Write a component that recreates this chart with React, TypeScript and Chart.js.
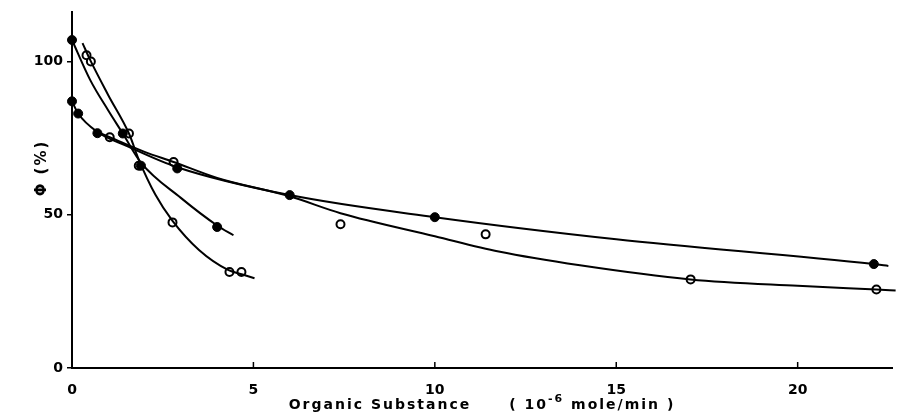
import React, { useEffect, useRef } from "react";
import { Chart, registerables } from "chart.js";

Chart.register(...registerables);

// Axis ticks
const xTicks = [0, 5, 10, 15, 20];
const yTicks = [0, 50, 100];

// Axis titles
const xTitleMain = "Organic Substance";
const xTitleUnitA = "( 10";
const xTitleUnitSup = "-6";
const xTitleUnitB = " mole/min )";
const yTitle = "Φ (%)";

// Fitted curves
const curveAx = [0, 0.5, 1.0, 1.4, 1.9, 3.0, 4.0, 4.45];
const curveAy = [107, 94, 84, 76.5, 67, 55.5, 46.5, 43.3];

const curveBx = [0.29, 0.5, 1.0, 1.57, 1.84, 2.3, 2.77, 3.5, 4.3, 4.7, 5.03];
const curveBy = [106, 100.5, 89, 76.5, 68, 56.5, 48, 38.5, 32, 30.5, 29.3];

const curveCx = [0, 0.17, 0.7, 1.5, 2.9, 6, 10, 15, 22.1, 22.5];
const curveCy = [87, 83, 77, 72.5, 65.5, 56.4, 49.2, 42, 33.9, 33.3];

const curveDx = [0.6, 1.04, 2.0, 2.8, 4, 6, 7.4, 10, 11.76, 14, 17.05, 20, 22.17, 22.7];
const curveDy = [77.5, 75.3, 70.5, 67.2, 62, 56, 50.5, 43, 38, 33.5, 28.9, 26.8, 25.6, 25.3];

// Measured points
const filledX = [0, 1.4, 1.9, 4.0, 0, 0.17, 0.7, 2.9, 6, 10, 22.1];
const filledY = [107, 76.5, 66, 46, 87, 83, 76.6, 65.1, 56.4, 49.2, 33.9];

const openX = [0.4, 0.52, 1.57, 1.84, 2.77, 4.34, 4.67, 1.04, 2.8, 7.4, 11.4, 17.05, 22.17];
const openY = [102, 100, 76.5, 66, 47.5, 31.3, 31.3, 75.3, 67.2, 46.9, 43.6, 28.9, 25.6];

const zip = (xs: number[], ys: number[]) => xs.map((x, i) => ({ x, y: ys[i] }));

const FONT = "'DejaVu Sans', sans-serif";

export default function App() {
  const ref = useRef<HTMLCanvasElement | null>(null);

  useEffect(() => {
    document.body.style.margin = "0";
    if (!ref.current) return;
    const curve = (xs: number[], ys: number[]) => ({
      data: zip(xs, ys),
      showLine: true,
      borderColor: "#000",
      borderWidth: 2,
      pointRadius: 0,
      cubicInterpolationMode: "monotone" as const,
      fill: false,
      clip: false as any,
    });
    const decor = {
      id: "decor",
      afterDraw(chart: any) {
        const ctx = chart.ctx;
        const xs = chart.scales.x;
        const area = chart.chartArea;
        ctx.save();
        // inner x ticks
        ctx.strokeStyle = "#000";
        ctx.lineWidth = 1.5;
        xTicks.slice(1).forEach((v) => {
          const px = xs.getPixelForValue(v);
          ctx.beginPath();
          ctx.moveTo(px, area.bottom);
          ctx.lineTo(px, area.bottom - 6);
          ctx.stroke();
        });
        // x title
        ctx.fillStyle = "#000";
        ctx.textBaseline = "alphabetic";
        ctx.textAlign = "left";
        (ctx as any).letterSpacing = "2px";
        const big = `bold 14px ${FONT}`;
        const small = `bold 11px ${FONT}`;
        ctx.font = big;
        const wMain = ctx.measureText(xTitleMain).width;
        const wA = ctx.measureText(xTitleUnitA).width;
        const wB = ctx.measureText(xTitleUnitB).width;
        ctx.font = small;
        const wS = ctx.measureText(xTitleUnitSup).width;
        const gap = 38;
        const total = wMain + gap + wA + wS + wB;
        let x0 = (area.left + area.right) / 2 - total / 2;
        const base = 409;
        ctx.font = big;
        ctx.fillText(xTitleMain, x0, base);
        x0 += wMain + gap;
        ctx.fillText(xTitleUnitA, x0, base);
        x0 += wA;
        ctx.font = small;
        ctx.fillText(xTitleUnitSup, x0, base - 7);
        x0 += wS;
        ctx.font = big;
        ctx.fillText(xTitleUnitB, x0, base);
        // y title
        ctx.translate(42, 168);
        ctx.rotate(-Math.PI / 2);
        ctx.textAlign = "center";
        ctx.textBaseline = "middle";
        (ctx as any).letterSpacing = "2px";
        ctx.font = `bold 15px ${FONT}`;
        ctx.fillText(yTitle, 0, 0);
        ctx.restore();
      },
    };
    const chart = new Chart(ref.current, {
      type: "scatter",
      data: {
        datasets: [
          curve(curveAx, curveAy),
          curve(curveBx, curveBy),
          curve(curveCx, curveCy),
          curve(curveDx, curveDy),
          {
            data: zip(filledX, filledY),
            showLine: false,
            pointRadius: 4.5,
            pointBackgroundColor: "#000",
            pointBorderColor: "#000",
            pointBorderWidth: 1,
            clip: false as any,
          },
          {
            data: zip(openX, openY),
            showLine: false,
            pointRadius: 4,
            pointBackgroundColor: "#fff",
            pointBorderColor: "#000",
            pointBorderWidth: 2,
            clip: false as any,
          },
        ],
      },
      options: {
        animation: false,
        responsive: false,
        maintainAspectRatio: false,
        layout: { padding: { top: 12, right: 0, left: 0, bottom: 0 } },
        plugins: { legend: { display: false }, tooltip: { enabled: false } },
        scales: {
          x: {
            type: "linear",
            min: 0,
            max: 22.6,
            afterFit: (s: any) => {
              s.height = 47;
            },
            afterBuildTicks: (s: any) => {
              s.ticks = xTicks.map((v) => ({ value: v }));
            },
            grid: { display: false },
            border: { display: true, color: "#000", width: 2 },
            ticks: {
              color: "#000",
              padding: 6,
              font: { family: FONT, size: 14, weight: "bold" },
              callback: (v: any) => String(v),
            },
          },
          y: {
            type: "linear",
            min: 0,
            max: 116,
            afterFit: (s: any) => {
              s.width = 72;
            },
            afterBuildTicks: (s: any) => {
              s.ticks = yTicks.map((v) => ({ value: v }));
            },
            grid: {
              display: true,
              drawOnChartArea: false,
              drawTicks: true,
              tickLength: 5,
              color: "#000",
              lineWidth: 1.5,
            },
            border: { display: true, color: "#000", width: 2 },
            ticks: {
              color: "#000",
              padding: 4,
              font: { family: FONT, size: 14, weight: "bold" },
              callback: (v: any) => String(v),
            },
          },
        },
      },
      plugins: [decor],
    });
    return () => chart.destroy();
  }, []);

  return (
    <div style={{ position: "fixed", left: 0, top: 0, width: 898, height: 415, background: "#fff" }}>
      <canvas ref={ref} width={898} height={415} style={{ width: 898, height: 415 }} />
    </div>
  );
}
